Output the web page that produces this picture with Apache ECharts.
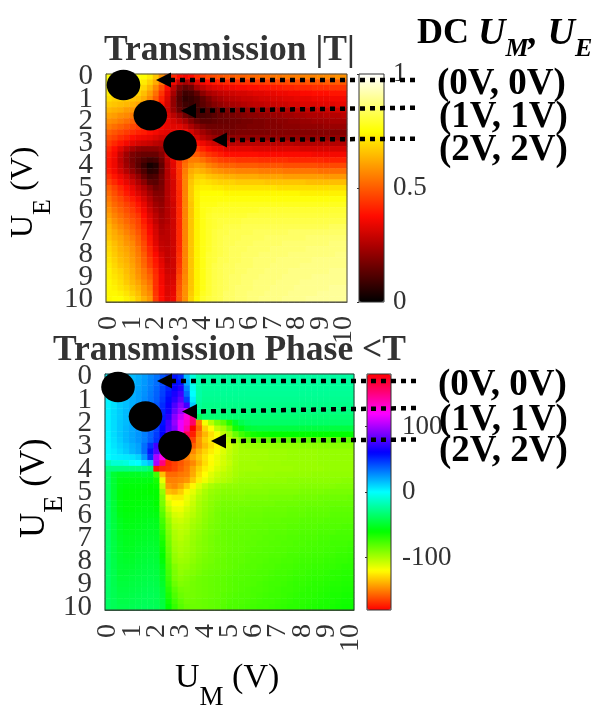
<!DOCTYPE html>
<html>
<head>
<meta charset="utf-8">
<style>html,body{margin:0;padding:0;background:#fff}#main{width:596px;height:722px}</style>
<script src="https://cdn.jsdelivr.net/npm/echarts@6/dist/echarts.min.js"></script>
</head>
<body>
<div id="main"></div>
<script>
// rows are U_E = 0..10, columns are U_M = 0..10, both in 0.25 V steps
var tickLabels = ['0','1','2','3','4','5','6','7','8','9','10'];
var phaseTicks = [-100, 0, 100];

// |T| in percent
var magnitude = [
[76,76,76,76,76,76,75,72,66,58,50,42,38,36,38,42,45,47,48,49,50,50,51,51,52,52,53,53,54,54,55,55,55,56,56,56,57,57,57,58,58],
[75,75,75,75,75,74,72,68,62,54,46,36,28,24,26,32,36,38,40,41,42,42,43,44,44,45,45,46,46,47,47,48,48,48,49,49,49,50,50,50,50],
[74,74,73,73,72,71,69,64,57,48,38,28,18,14,16,24,28,31,33,34,35,36,37,37,38,38,39,39,40,40,41,41,42,42,42,43,43,43,44,44,44],
[72,71,70,70,69,68,65,60,53,44,34,24,14,9,10,14,20,24,26,28,29,30,31,31,32,33,33,34,34,35,35,36,36,37,37,38,38,38,39,39,39],
[70,68,68,67,66,65,62,57,50,41,32,21,12,7,8,10,14,18,22,24,26,27,28,29,29,30,31,31,32,32,33,33,34,34,34,35,35,35,36,36,36],
[67,66,65,64,63,61,58,53,47,39,31,21,13,9,8,10,13,16,19,21,23,24,25,26,27,28,28,29,29,30,30,31,31,32,32,32,33,33,33,34,34],
[64,63,62,60,59,57,54,49,44,38,30,22,15,11,9,9,10,12,14,16,18,19,20,21,22,23,24,24,25,25,26,26,27,27,28,28,29,29,29,30,30],
[61,60,58,57,55,53,50,46,41,37,32,27,22,16,12,10,10,11,13,15,16,17,18,19,20,20,21,21,22,22,23,23,24,24,25,25,25,26,26,26,27],
[58,57,55,53,51,49,46,43,40,37,34,31,28,24,19,15,13,13,14,15,15,16,16,17,17,18,18,19,19,20,20,21,21,22,22,23,23,23,24,24,24],
[55,53,51,49,47,45,43,41,38,36,34,33,33,30,25,21,18,16,16,16,16,16,17,17,18,18,18,19,19,19,20,20,20,21,21,21,21,22,22,22,22],
[51,49,47,45,43,41,40,38,36,34,33,34,37,36,31,27,23,20,18,18,17,17,18,18,18,18,18,18,19,19,19,19,19,19,19,19,19,19,19,19,19],
[48,46,43,41,38,36,35,34,32,30,31,35,40,40,36,31,27,24,22,21,21,21,21,21,21,21,21,21,21,21,21,21,21,21,21,21,21,21,21,21,21],
[45,42,39,36,33,31,30,29,27,26,30,35,41,42,42,38,35,32,30,28,27,27,27,27,27,27,27,27,27,27,27,27,26,26,26,26,26,26,26,26,26],
[42,38,33,28,24,21,20,20,20,22,29,35,42,45,46,44,41,38,36,35,33,33,33,33,33,32,32,32,32,32,32,32,32,31,31,31,31,31,31,31,31],
[40,36,29,23,18,16,15,15,15,19,28,35,43,49,51,50,47,44,42,40,38,38,38,38,38,38,37,37,37,37,37,37,37,37,37,36,36,36,36,36,36],
[39,35,28,22,17,14,11,9,10,16,27,34,44,51,55,55,53,50,48,46,45,45,44,44,44,44,43,43,43,43,43,42,42,42,42,42,42,41,41,41,41],
[39,35,29,23,18,13,8,3,5,14,26,33,44,53,58,60,59,56,54,52,51,51,50,50,50,50,49,49,49,49,48,48,48,48,48,48,47,47,47,47,47],
[40,36,31,26,21,16,11,6,7,15,26,33,44,55,62,64,63,61,59,58,57,57,56,56,56,56,55,55,55,55,54,54,54,54,54,54,53,53,53,53,53],
[43,39,35,31,26,21,15,10,11,17,26,32,44,56,64,68,68,66,65,64,63,63,62,62,62,62,61,61,61,61,60,60,60,60,60,60,60,59,59,59,59],
[46,42,38,34,30,25,20,14,13,17,26,31,43,56,66,70,71,70,69,68,68,68,67,67,67,67,67,66,66,66,66,66,66,66,65,65,65,65,65,65,65],
[50,46,42,38,34,29,25,20,16,18,26,31,43,56,67,72,73,73,72,72,71,71,71,71,71,71,71,71,71,70,70,70,70,70,70,70,70,70,70,70,70],
[52,48,44,40,36,32,28,23,19,19,26,31,42,56,67,73,75,75,75,75,74,74,74,74,74,74,74,74,74,74,74,74,74,73,73,73,73,73,73,73,73],
[54,50,47,43,40,36,31,26,21,20,26,31,42,56,67,73,76,76,76,76,76,76,76,76,76,76,76,76,76,76,76,76,76,76,76,76,76,76,76,76,76],
[56,52,49,46,43,39,34,28,23,21,26,30,42,56,66,73,77,77,77,78,78,78,78,78,78,78,78,78,78,78,78,78,78,78,78,78,78,78,78,78,78],
[58,54,51,48,45,41,36,30,25,22,26,30,42,56,66,73,77,78,79,79,79,79,79,79,79,79,80,80,80,80,80,80,80,80,80,80,80,80,80,80,80],
[60,56,53,50,47,44,38,32,27,23,26,30,42,56,66,73,77,79,80,80,80,80,80,80,81,81,81,81,81,81,81,81,81,81,81,81,81,81,81,81,81],
[62,58,55,52,49,46,40,34,28,24,26,30,42,56,66,73,77,79,80,81,81,81,81,82,82,82,82,82,82,82,82,82,82,82,82,82,82,82,82,82,82],
[64,60,57,54,51,47,42,36,30,25,27,30,42,56,66,73,77,79,80,81,82,82,82,83,83,83,83,83,83,83,83,83,83,83,83,83,83,83,84,84,84],
[65,62,59,56,53,49,44,37,31,26,27,30,42,56,66,73,77,79,81,82,82,83,83,83,83,84,84,84,84,84,84,85,85,85,85,85,85,85,85,85,85],
[66,63,61,58,55,51,45,39,32,27,27,30,42,56,66,73,77,79,81,82,83,83,83,84,84,84,84,85,85,85,85,85,85,85,86,86,86,86,86,86,86],
[68,65,62,59,57,52,47,40,33,28,27,30,42,56,66,73,77,79,81,82,83,83,84,84,84,85,85,85,85,85,86,86,86,86,86,86,86,86,87,87,87],
[69,66,63,61,58,54,48,42,35,29,28,30,42,56,66,73,77,79,81,82,83,84,84,84,85,85,85,85,86,86,86,86,86,86,87,87,87,87,87,87,87],
[70,67,64,62,59,55,50,43,37,31,28,30,43,56,66,73,77,80,81,82,83,84,84,85,85,85,86,86,86,86,86,87,87,87,87,87,87,87,87,88,88],
[71,68,65,63,60,56,51,45,39,33,28,30,43,56,66,73,77,80,81,83,83,84,84,85,85,86,86,86,86,87,87,87,87,87,87,88,88,88,88,88,88],
[72,69,66,64,61,57,52,46,40,34,29,30,44,56,66,73,77,80,82,83,84,84,85,85,85,86,86,86,87,87,87,87,87,88,88,88,88,88,88,88,88],
[73,70,68,65,62,58,54,49,42,35,30,30,45,56,66,73,77,80,82,83,84,84,85,85,86,86,86,87,87,87,87,88,88,88,88,88,88,88,89,89,89],
[73,71,69,66,63,59,55,51,43,36,31,31,47,57,66,73,77,80,82,83,84,85,85,86,86,86,87,87,87,87,88,88,88,88,88,89,89,89,89,89,89],
[74,72,70,67,64,61,57,53,43,36,31,32,48,57,66,73,77,80,82,83,84,85,85,86,86,87,87,87,87,88,88,88,88,89,89,89,89,89,89,89,89],
[74,73,71,69,66,63,59,55,43,37,32,33,49,58,66,73,77,80,82,83,84,85,86,86,86,87,87,87,88,88,88,88,89,89,89,89,89,89,90,90,90],
[74,74,73,71,68,65,60,57,44,37,32,34,50,58,67,73,78,80,82,83,85,85,86,86,87,87,87,88,88,88,88,89,89,89,89,89,90,90,90,90,90],
[74,75,75,73,71,67,63,59,45,38,33,35,50,58,68,74,79,81,82,83,85,85,86,86,87,87,88,88,88,88,89,89,89,89,90,90,90,90,90,90,90]
];

// angle of T in degrees
var phase = [
[2,6,10,13,16,19,23,28,33,40,48,56,50,15,-8,-20,-22,-22,-22,-22,-22,-22,-22,-22,-22,-22,-22,-22,-22,-22,-22,-22,-22,-22,-22,-22,-22,-22,-22,-22,-22],
[2,6,10,14,17,20,24,29,34,42,50,58,56,20,-6,-20,-23,-23,-23,-23,-23,-23,-23,-23,-23,-23,-23,-23,-23,-23,-23,-23,-23,-23,-23,-23,-23,-23,-23,-23,-23],
[2,6,11,14,18,21,25,30,36,44,52,62,68,28,-3,-21,-24,-24,-24,-24,-24,-24,-24,-24,-24,-24,-24,-24,-24,-24,-24,-24,-24,-24,-24,-24,-24,-24,-24,-24,-24],
[3,7,11,15,18,22,26,31,37,45,55,66,75,35,0,-21,-25,-25,-25,-25,-25,-25,-25,-25,-25,-25,-25,-25,-25,-25,-25,-25,-25,-25,-25,-25,-25,-25,-25,-25,-25],
[3,7,11,15,19,22,27,32,38,47,58,70,82,45,4,-22,-26,-26,-26,-26,-26,-26,-26,-26,-26,-26,-26,-26,-26,-26,-26,-26,-26,-26,-26,-26,-26,-26,-26,-26,-26],
[3,7,12,15,19,23,27,33,40,50,62,78,92,75,12,-24,-28,-28,-28,-28,-28,-28,-28,-28,-28,-28,-28,-28,-28,-28,-28,-28,-28,-28,-28,-28,-28,-28,-28,-28,-28],
[3,8,12,16,20,23,28,34,42,52,64,84,98,112,60,-26,-30,-30,-30,-30,-30,-30,-30,-30,-30,-30,-30,-30,-30,-30,-30,-30,-30,-30,-30,-30,-30,-30,-30,-30,-30],
[3,8,12,16,20,24,29,35,43,54,70,92,108,128,150,-40,-33,-33,-33,-33,-33,-33,-33,-33,-33,-33,-33,-33,-33,-33,-33,-33,-33,-33,-33,-33,-33,-33,-33,-33,-33],
[3,8,13,16,20,24,29,36,44,56,76,95,115,132,155,-150,-118,-103,-90,-82,-68,-50,-42,-38,-36,-36,-36,-36,-36,-36,-36,-36,-36,-36,-36,-36,-36,-36,-36,-36,-36],
[3,8,13,17,21,25,30,36,45,58,78,90,115,140,180,-156,-130,-120,-105,-98,-85,-65,-55,-48,-46,-45,-45,-45,-45,-45,-45,-45,-45,-45,-45,-45,-45,-45,-45,-45,-45],
[2,8,13,17,21,25,30,37,46,60,80,95,120,160,-173,-150,-137,-127,-118,-105,-98,-85,-75,-68,-64,-62,-61,-60,-60,-60,-60,-60,-60,-60,-60,-60,-60,-60,-60,-60,-60],
[2,7,12,17,21,25,30,38,48,62,82,98,125,165,-165,-145,-132,-125,-120,-112,-104,-97,-90,-86,-84,-83,-83,-82,-82,-82,-82,-82,-82,-82,-82,-82,-82,-82,-82,-82,-82],
[1,6,10,14,18,22,34,48,75,85,100,120,145,-170,-158,-146,-136,-128,-122,-115,-108,-102,-98,-96,-96,-95,-95,-95,-94,-94,-94,-94,-93,-93,-93,-93,-92,-92,-92,-92,-92],
[1,4,8,12,17,21,34,55,80,92,115,140,-170,-158,-148,-138,-130,-124,-118,-112,-106,-102,-99,-99,-98,-98,-98,-97,-97,-97,-96,-96,-96,-96,-96,-95,-95,-95,-95,-95,-95],
[0,3,4,5,6,10,24,48,100,125,170,-175,-160,-150,-142,-134,-126,-120,-115,-110,-105,-101,-99,-99,-98,-98,-98,-97,-97,-97,-96,-96,-96,-96,-96,-95,-95,-95,-95,-95,-95],
[-18,-10,-10,-8,-2,0,8,15,100,150,-170,-165,-160,-154,-148,-138,-128,-121,-115,-110,-106,-101,-98,-98,-98,-97,-97,-97,-97,-96,-96,-96,-96,-96,-96,-95,-95,-95,-95,-95,-95],
[-30,-30,-30,-30,-30,-30,-30,-35,-175,-170,-168,-164,-158,-152,-142,-132,-124,-118,-112,-108,-104,-100,-98,-98,-98,-98,-97,-97,-97,-97,-97,-96,-96,-96,-96,-96,-95,-95,-95,-95,-95],
[-35,-48,-52,-52,-52,-52,-50,-52,-75,-135,-155,-155,-152,-150,-140,-128,-120,-113,-108,-104,-102,-99,-97,-96,-96,-96,-96,-96,-95,-95,-95,-95,-95,-95,-94,-94,-94,-94,-94,-94,-94],
[-35,-48,-55,-56,-56,-56,-56,-56,-65,-115,-150,-150,-148,-145,-134,-124,-116,-110,-105,-102,-100,-97,-95,-95,-95,-94,-94,-94,-94,-94,-93,-93,-93,-93,-93,-93,-93,-93,-93,-92,-92],
[-36,-48,-56,-58,-58,-58,-58,-60,-62,-105,-145,-148,-142,-132,-122,-112,-105,-100,-97,-95,-94,-94,-93,-93,-93,-93,-92,-92,-92,-92,-92,-92,-91,-91,-91,-91,-91,-91,-90,-90,-90],
[-36,-48,-57,-59,-59,-59,-59,-60,-60,-95,-135,-138,-132,-122,-114,-106,-100,-96,-94,-92,-92,-92,-92,-91,-91,-91,-91,-90,-90,-90,-90,-90,-89,-89,-89,-89,-88,-88,-88,-88,-88],
[-36,-48,-57,-59,-59,-59,-58,-58,-60,-90,-122,-125,-125,-116,-110,-102,-98,-94,-92,-90,-90,-90,-90,-89,-89,-89,-89,-88,-88,-88,-88,-87,-87,-87,-87,-86,-86,-86,-86,-86,-85],
[-36,-47,-56,-58,-58,-58,-57,-57,-60,-88,-112,-120,-120,-114,-107,-100,-96,-93,-90,-88,-88,-88,-88,-88,-87,-87,-87,-87,-86,-86,-86,-86,-85,-85,-85,-85,-84,-84,-84,-84,-84],
[-36,-47,-56,-58,-58,-57,-56,-56,-58,-84,-106,-115,-116,-110,-105,-99,-95,-92,-89,-87,-87,-87,-86,-86,-86,-86,-85,-85,-85,-85,-84,-84,-84,-83,-83,-83,-83,-82,-82,-82,-82],
[-36,-46,-55,-57,-57,-56,-55,-55,-56,-80,-100,-110,-112,-107,-103,-98,-94,-91,-88,-86,-86,-86,-86,-85,-85,-85,-84,-84,-84,-84,-83,-83,-83,-82,-82,-82,-82,-81,-81,-81,-81],
[-36,-46,-53,-56,-56,-55,-54,-53,-54,-76,-95,-106,-108,-105,-100,-97,-93,-90,-88,-86,-85,-85,-85,-84,-84,-84,-83,-83,-83,-82,-82,-82,-81,-81,-81,-81,-80,-80,-80,-80,-80],
[-36,-45,-52,-55,-55,-54,-53,-52,-53,-73,-92,-103,-105,-103,-98,-95,-92,-89,-87,-85,-85,-84,-84,-84,-83,-83,-83,-82,-82,-82,-81,-81,-80,-80,-80,-79,-79,-79,-79,-78,-78],
[-36,-45,-52,-54,-54,-53,-52,-51,-52,-70,-90,-101,-104,-102,-97,-94,-91,-89,-87,-85,-84,-84,-84,-83,-83,-82,-82,-81,-81,-81,-80,-80,-79,-79,-79,-78,-78,-78,-77,-77,-77],
[-36,-45,-51,-53,-53,-52,-51,-50,-51,-67,-88,-100,-103,-100,-96,-93,-90,-88,-86,-85,-84,-84,-83,-83,-82,-82,-81,-81,-80,-80,-79,-79,-78,-78,-78,-77,-77,-76,-76,-76,-76],
[-36,-44,-50,-53,-53,-51,-50,-49,-50,-64,-86,-98,-101,-99,-95,-92,-90,-88,-86,-85,-84,-83,-83,-82,-82,-81,-81,-80,-80,-79,-79,-78,-78,-77,-77,-76,-76,-75,-75,-75,-74],
[-36,-44,-50,-52,-52,-50,-49,-48,-49,-62,-84,-97,-100,-98,-95,-92,-90,-88,-86,-85,-84,-83,-83,-82,-81,-81,-80,-80,-79,-79,-78,-78,-77,-77,-76,-76,-75,-75,-74,-74,-73],
[-36,-44,-49,-51,-51,-49,-48,-47,-48,-60,-82,-95,-99,-97,-94,-91,-89,-87,-86,-85,-83,-83,-82,-81,-81,-80,-80,-79,-79,-78,-77,-77,-76,-76,-75,-75,-74,-74,-73,-73,-72],
[-36,-43,-49,-50,-50,-48,-47,-46,-47,-58,-80,-94,-97,-96,-93,-90,-88,-87,-85,-84,-83,-82,-82,-81,-80,-80,-79,-78,-78,-77,-77,-76,-75,-75,-74,-74,-73,-73,-72,-72,-71],
[-36,-43,-48,-49,-49,-47,-46,-45,-46,-55,-78,-90,-95,-94,-91,-89,-87,-86,-85,-84,-83,-82,-81,-80,-80,-79,-78,-78,-77,-76,-76,-75,-74,-74,-73,-73,-72,-72,-71,-70,-70],
[-36,-42,-48,-48,-47,-46,-45,-44,-45,-53,-76,-89,-94,-92,-90,-88,-86,-85,-84,-83,-82,-81,-80,-80,-79,-78,-78,-77,-76,-76,-75,-74,-74,-73,-72,-72,-71,-70,-70,-69,-69],
[-36,-42,-47,-47,-46,-45,-44,-43,-44,-52,-74,-88,-92,-90,-88,-86,-85,-84,-83,-82,-81,-80,-80,-79,-78,-78,-77,-76,-75,-75,-74,-73,-73,-72,-71,-71,-70,-70,-69,-68,-68],
[-36,-42,-46,-46,-45,-44,-43,-42,-43,-50,-72,-85,-90,-89,-87,-86,-85,-84,-83,-82,-81,-80,-79,-79,-78,-77,-76,-75,-75,-74,-73,-72,-72,-71,-70,-70,-69,-68,-68,-67,-67],
[-37,-41,-45,-45,-44,-43,-42,-41,-42,-48,-69,-81,-87,-88,-87,-86,-85,-84,-83,-82,-81,-80,-79,-78,-77,-77,-76,-75,-74,-73,-73,-72,-71,-70,-70,-69,-68,-67,-67,-66,-66],
[-37,-41,-44,-44,-43,-42,-41,-40,-41,-47,-66,-78,-85,-87,-87,-86,-85,-84,-83,-81,-80,-79,-78,-78,-77,-76,-75,-74,-74,-73,-72,-71,-70,-70,-69,-68,-67,-66,-66,-65,-65],
[-37,-40,-43,-43,-42,-41,-40,-40,-41,-46,-63,-75,-82,-86,-86,-85,-84,-83,-82,-81,-79,-78,-78,-77,-76,-75,-74,-74,-73,-72,-71,-70,-70,-69,-68,-67,-66,-66,-65,-64,-64],
[-37,-40,-42,-42,-41,-40,-39,-39,-40,-45,-60,-72,-80,-84,-85,-85,-84,-83,-82,-80,-78,-78,-77,-76,-75,-74,-74,-73,-72,-71,-70,-70,-69,-68,-67,-66,-66,-65,-64,-63,-63]
];

// black spots and dotted arrows drawn over the maps, [x, y] on the page
var spots = [[123.5, 85], [150.3, 115.3], [180, 145.3], [118, 387], [145.5, 416.5], [175, 446]];
var arrows = [
    [156, 80, 415, 80],
    [181, 110.7, 415, 107.7],
    [212, 140, 415, 138.7],
    [157, 381, 416, 381],
    [182, 411.5, 416, 408],
    [211, 441, 416, 439.5]
];
var voltageText = [['(0V, 0V)', 437, 84], ['(1V, 1V)', 439, 117], ['(2V, 2V)', 439, 150], ['(0V, 0V)', 438, 385], ['(1V, 1V)', 439, 420], ['(2V, 2V)', 439, 451]];

function toCells(rows, scale) {
    var cells = [];
    rows.forEach(function (row, y) {
        row.forEach(function (v, x) {
            cells.push([x, y, v * scale]);
        });
    });
    return cells;
}

// only every 4th step carries a label, the others stay empty
var steps = [];
tickLabels.forEach(function (t, i) {
    steps.push(t);
    if (i < 10) steps.push('', '', '');
});

var serif = '"Liberation Serif", "Times New Roman", serif';
var textColor = '#333333';

function mapXAxis(gridIndex) {
    return {
        type: 'category', gridIndex: gridIndex, data: steps,
        axisTick: { show: false },
        axisLine: { lineStyle: { color: '#444', width: 1 } },
        axisLabel: { interval: 0, hideOverlap: false, rotate: 90, margin: 14, padding: [2, 0, 0, 0], color: textColor, fontFamily: serif, fontSize: 28 }
    };
}
function mapYAxis(gridIndex) {
    return {
        type: 'category', gridIndex: gridIndex, data: steps, inverse: true,
        axisTick: { show: false },
        axisLine: { lineStyle: { color: '#444', width: 1 } },
        axisLabel: { interval: 0, hideOverlap: false, margin: 13, padding: [4, 0, 0, 0], color: textColor, fontFamily: serif, fontSize: 29 }
    };
}

function axisRich(big, small, height) {
    return {
        a: { fontFamily: serif, fontSize: big, color: textColor, lineHeight: height, verticalAlign: 'top' },
        b: { fontFamily: serif, fontSize: small, color: textColor, lineHeight: height, verticalAlign: 'bottom' }
    };
}

document.addEventListener('DOMContentLoaded', function () {
    var chartDom = document.getElementById('main');
    var myChart = echarts.init(chartDom);
    var option;

    var headRich = {
        a: { fontFamily: serif, fontWeight: 'bold', fontSize: 36, color: '#000', lineHeight: 47, verticalAlign: 'top' },
        i: { fontFamily: serif, fontWeight: 'bold', fontStyle: 'italic', fontSize: 38, color: '#000', lineHeight: 47, verticalAlign: 'top' },
        s: { fontFamily: serif, fontWeight: 'bold', fontStyle: 'italic', fontSize: 26, color: '#000', lineHeight: 47, verticalAlign: 'bottom' }
    };

    var graphics = [
        { type: 'text', x: 104, y: 51, z: 30, style: { text: 'Transmission |T|', fontFamily: serif, fontWeight: 'bold', fontSize: 35.5, fill: textColor, verticalAlign: 'middle' } },
        { type: 'text', x: 53, y: 351, z: 30, style: { text: 'Transmission Phase <T', fontFamily: serif, fontWeight: 'bold', fontSize: 35.5, fill: textColor, verticalAlign: 'middle' } },
        { type: 'text', x: 417, y: 39, z: 30, style: { text: '{a|DC }{i|U}{s|M}{i|, U}{s|E}', rich: headRich, verticalAlign: 'middle' } },
        { type: 'text', x: 175, y: 686, z: 30, style: { text: '{a|U}{b|M}{a| (V)}', rich: axisRich(34, 27, 50), verticalAlign: 'middle' } },
        { type: 'text', x: 32, y: 238, z: 30, rotation: Math.PI / 2, style: { text: '{a|U}{b|E}{a| (V)}', rich: axisRich(32, 26, 48), verticalAlign: 'middle' } },
        { type: 'text', x: 43, y: 538, z: 30, rotation: Math.PI / 2, style: { text: '{a|U}{b|E}{a| (V)}', rich: axisRich(35, 28, 52), verticalAlign: 'middle' } }
    ];
    spots.forEach(function (s) {
        graphics.push({ type: 'ellipse', z: 20, shape: { cx: s[0], cy: s[1], rx: 16.8, ry: 15.3 }, style: { fill: '#000' } });
    });
    arrows.forEach(function (a) {
        graphics.push({ type: 'line', z: 21, shape: { x1: a[2], y1: a[3], x2: a[0] + 15, y2: a[1] }, style: { stroke: '#000', lineWidth: 4.5, lineDash: [5, 5] } });
        graphics.push({ type: 'polygon', z: 21, shape: { points: [[a[0], a[1]], [a[0] + 15, a[1] - 7.5], [a[0] + 15, a[1] + 7.5]] }, style: { fill: '#000' } });
    });
    voltageText.forEach(function (t) {
        graphics.push({ type: 'text', z: 30, x: t[1], y: t[2], style: { text: t[0], fontFamily: serif, fontWeight: 'bold', fontSize: 37, fill: '#000', verticalAlign: 'middle' } });
    });

    option = {
        animation: false,
        backgroundColor: '#fff',
        grid: [
            { left: 106, top: 74, width: 241, height: 228, show: true, borderColor: '#444', borderWidth: 1, z: 10, backgroundColor: 'transparent' },
            { left: 105, top: 374, width: 249, height: 236, show: true, borderColor: '#333', borderWidth: 1, z: 10, backgroundColor: 'transparent' },
            { left: 359, top: 74, width: 25, height: 228, show: true, borderColor: '#333', borderWidth: 1, z: 10, backgroundColor: 'transparent' },
            { left: 367, top: 374, width: 24, height: 236, show: true, borderColor: '#333', borderWidth: 1, z: 10, backgroundColor: 'transparent' }
        ],
        xAxis: [
            mapXAxis(0),
            mapXAxis(1),
            { type: 'value', gridIndex: 2, show: false, min: 0, max: 1 },
            { type: 'value', gridIndex: 3, show: false, min: 0, max: 1 }
        ],
        yAxis: [
            mapYAxis(0),
            mapYAxis(1),
            {
                type: 'value', gridIndex: 2, position: 'right', min: 0, max: 1, interval: 0.5, z: 10,
                splitLine: { show: false }, axisLine: { show: false },
                axisTick: { inside: true, length: 2, lineStyle: { color: '#333' } },
                axisLabel: { margin: 9, color: textColor, fontFamily: serif, fontSize: 27 }
            },
            {
                type: 'value', gridIndex: 3, position: 'right', min: -180, max: 180, z: 10,
                splitLine: { show: false }, axisLine: { show: false },
                axisTick: { inside: true, length: 2, customValues: phaseTicks, lineStyle: { color: '#333' } },
                axisLabel: { margin: 11, customValues: phaseTicks, color: textColor, fontFamily: serif, fontSize: 27 }
            }
        ],
        visualMap: [
            {
                seriesIndex: 0, min: 0, max: 1, left: 359, top: 74, padding: 0, itemWidth: 25, itemHeight: 228,
                calculable: false, text: ['', ''], showLabel: false,
                inRange: { color: ['#000000', '#570000', '#ae0000', '#ff0a00', '#ff5b00', '#ffae00', '#ffff00', '#ffff80', '#ffffff'] }
            },
            {
                seriesIndex: 1, min: -180, max: 180, left: 367, top: 374, padding: 0, itemWidth: 24, itemHeight: 236,
                calculable: false, text: ['', ''], showLabel: false,
                inRange: { color: ['#ff0000', '#ffff00', '#00ff00', '#00ffff', '#0000ff', '#ff00ff', '#ff0000'] }
            }
        ],
        series: [
            { type: 'heatmap', xAxisIndex: 0, yAxisIndex: 0, data: toCells(magnitude, 0.01), progressive: 0, emphasis: { disabled: true } },
            { type: 'heatmap', xAxisIndex: 1, yAxisIndex: 1, data: toCells(phase, 1), progressive: 0, emphasis: { disabled: true } }
        ],
        graphic: { elements: graphics }
    };

    option && myChart.setOption(option);
});
</script>
</body>
</html>
